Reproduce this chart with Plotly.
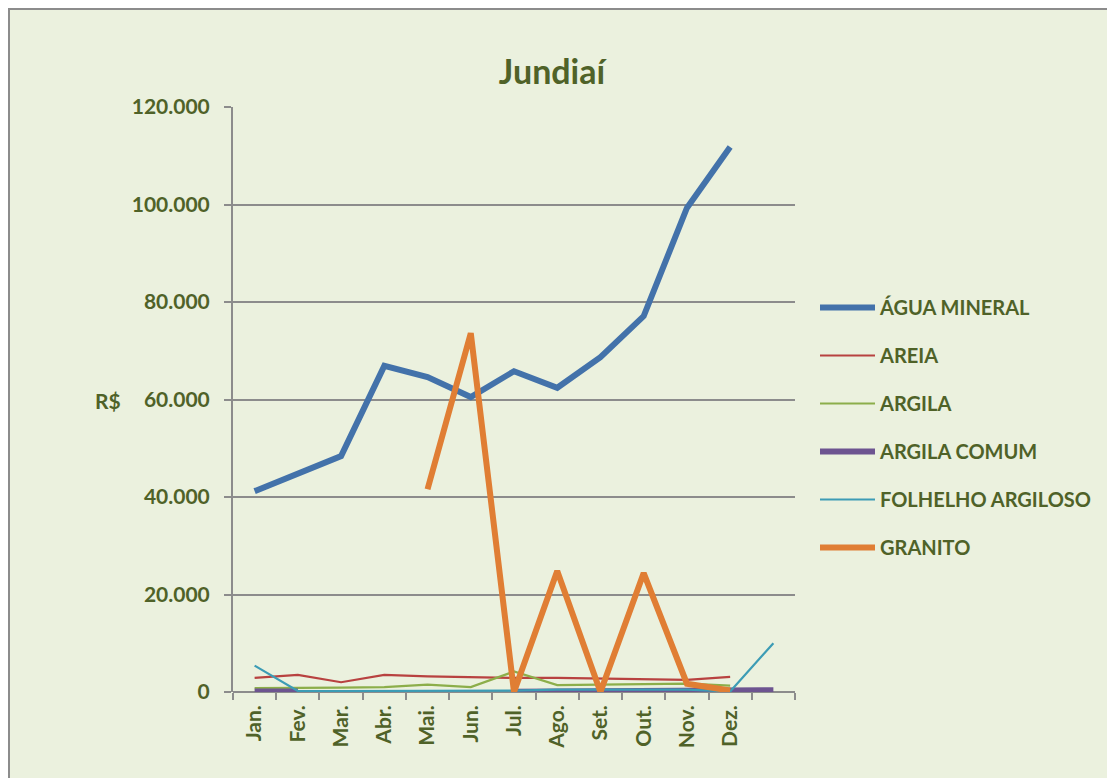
import plotly.graph_objects as go

months = ["Jan.", "Fev.", "Mar.", "Abr.", "Mai.", "Jun.", "Jul.", "Ago.", "Set.", "Out.", "Nov.", "Dez.", " "]

agua_mineral = [41200, 44900, 48400, 66900, 64600, 60500, 65800, 62400, 68700, 77100, 99300, 111800, None]
areia = [2900, 3500, 2000, 3500, 3200, 3000, 2900, 2900, 2800, 2700, 2500, 3100, None]
argila = [800, 800, 900, 1000, 1500, 1000, 4200, 1400, 1500, 1600, 1700, 1300, None]
argila_comum = [100, 100, None, None, None, None, 50, 50, 50, 50, 100, 150, 350]
folhelho = [5400, 200, 200, 200, 200, 200, 300, 500, 500, 600, 500, 100, 10000]
granito = [None, None, None, None, 41600, 73600, 0, 24800, 0, 24400, 1700, 300, None]

series = [
    ("ÁGUA MINERAL", agua_mineral, "#4372AA", 6),
    ("AREIA", areia, "#B84240", 2.2),
    ("ARGILA", argila, "#8CAE4A", 2.2),
    ("ARGILA COMUM", argila_comum, "#6D5490", 6),
    ("FOLHELHO ARGILOSO", folhelho, "#3C9CB5", 2.2),
    ("GRANITO", granito, "#E07E34", 6),
]

TXT = "#4F6228"
GRID = "#8C8C8C"
FONT = "Lato"

fig = go.Figure()
for i, (name, vals, color, w) in enumerate(series):
    fig.add_trace(go.Scatter(
        x=months, y=vals, name=name, mode="lines",
        line=dict(color=color, width=w),
        legendgroup=f"g{i}", connectgaps=False,
        hoverinfo="skip",
    ))

# page body has an 8px offset; work in page pixels and convert
OFF = 8
L, R, T, B = 233, 795, 107, 692
W, H = 1115 - OFF, 778 - OFF
pw, ph = R - L, B - T

def px(x):
    return (x - L) / pw

def py(y):
    return (B - y) / ph

fig.add_shape(type="rect", xref="paper", yref="paper",
              x0=px(8), x1=px(1140), y0=py(800), y1=py(8),
              fillcolor="#EBF1DE", line=dict(width=0),
              layer="below")
fig.add_shape(type="line", xref="paper", yref="paper",
              x0=px(9), x1=px(9), y0=py(800), y1=py(8),
              line=dict(color="#8C8C8C", width=2), layer="below")
fig.add_shape(type="line", xref="paper", yref="paper",
              x0=px(8), x1=px(1140), y0=py(9), y1=py(9),
              line=dict(color="#8C8C8C", width=2), layer="below")

fig.update_layout(
    width=W, height=H,
    margin=dict(l=L - OFF, r=(W + OFF) - R, t=T - OFF, b=(H + OFF) - B),
    paper_bgcolor="white",
    plot_bgcolor="rgba(0,0,0,0)",
    separators=",.",
    font=dict(family=FONT, color=TXT, size=18),
    title=dict(text="<b>Jundiaí</b>", x=px(552), xref="paper", xanchor="center",
               y=1 - (72 - OFF) / H, yanchor="middle",
               font=dict(family=FONT, size=34, color=TXT)),
    showlegend=True,
    legend=dict(x=px(815), y=py(288), xanchor="left", yanchor="top",
                bgcolor="rgba(0,0,0,0)", tracegroupgap=19, itemwidth=55,
                font=dict(family=FONT, size=20, color=TXT, weight="bold")),
    hovermode=False,
)

fig.update_xaxes(
    type="category", range=[-0.5, 12.5],
    showgrid=False, showline=False, zeroline=False,
    ticks="outside", tickson="boundaries", ticklen=7, tickwidth=2, tickcolor=GRID,
    tickangle=-90, ticklabelstandoff=8,
    tickfont=dict(family=FONT, size=21, color=TXT, weight="bold"),
)
fig.update_yaxes(
    range=[0, 120000], dtick=20000, tickformat=",d",
    showgrid=True, gridcolor=GRID, gridwidth=1.5,
    showline=True, linecolor=GRID, linewidth=2,
    zeroline=True, zerolinecolor=GRID, zerolinewidth=2,
    ticks="outside", ticklen=7, tickwidth=2, tickcolor=GRID,
    ticklabelstandoff=10,
    tickfont=dict(family=FONT, size=21, color=TXT, weight="bold"),
)

fig.add_annotation(text="<b>R$</b>", xref="paper", yref="paper",
                   x=px(93), y=py(400), xanchor="left", showarrow=False,
                   font=dict(family=FONT, size=21, color=TXT))

fig.write_html("out.html")
